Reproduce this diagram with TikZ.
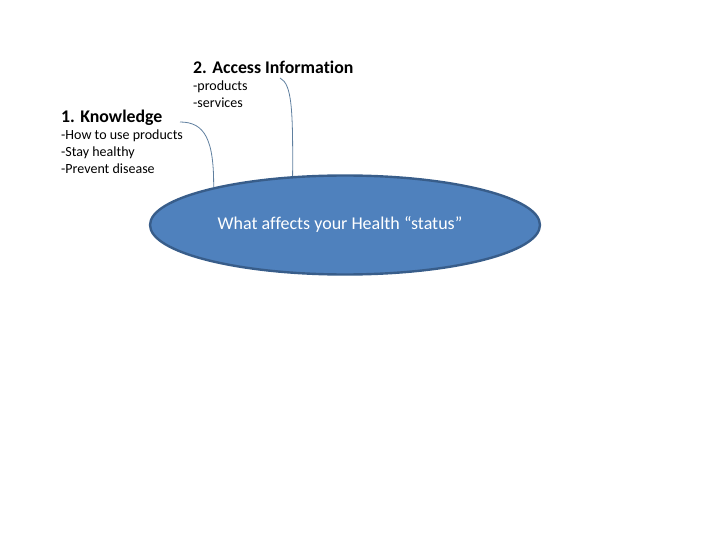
\documentclass[tikz,border=0pt]{standalone}
\usepackage{fontspec}
\setmainfont{Carlito}[Ligatures=NoCommon]
\usetikzlibrary{shapes.geometric}
\definecolor{ovalfill}{HTML}{4F81BD}
\definecolor{ovaldraw}{HTML}{385D8A}
\definecolor{callout}{HTML}{5F7F9F}
\tikzset{
  heading/.style={anchor=base west,inner sep=0pt,font=\fontsize{17.8}{20}\selectfont\bfseries},
  item/.style={anchor=base west,inner sep=0pt,font=\fontsize{14}{17}\selectfont},
  lead/.style={callout,line width=0.8pt}
}

\begin{document}
\begin{tikzpicture}[x=1pt,y=-1pt]
 \useasboundingbox (0,0) rectangle (720,540);
 \begin{scope}
  % centre oval
  \node[ellipse,draw=ovaldraw,fill=ovalfill,line width=2.4pt,
        minimum width=390,minimum height=99,inner sep=0pt] (health) at (345,225) {};
  \node[text=white,font=\fontsize{18}{20}\selectfont] (status) at (340,224)
        {What affects your Health ``status''};

  % the two text blocks
  \node[heading] (access) at (193,74) {2. Access Information};
  \node[item] (products) at (193,91) {-products};
  \node[item] (services) at (193,108) {-services};
  \node[heading] (know) at (61,123) {1. Knowledge};
  \node[item] (useprod) at (61,140) {-How to use products};
  \node[item] (healthy) at (61,157) {-Stay healthy};
  \node[item] (disease) at (61,174) {-Prevent disease};

  % callout leads
  \coordinate (knowend) at (180,122);
  \coordinate (accessend) at (280,78);
  \draw[lead] (knowend) .. controls (205,122) and (214,140) .. (health.164);
  \draw[lead] (accessend) .. controls (292,84) and (293,110) .. (health.137);
 \end{scope}
\end{tikzpicture}
\end{document}
